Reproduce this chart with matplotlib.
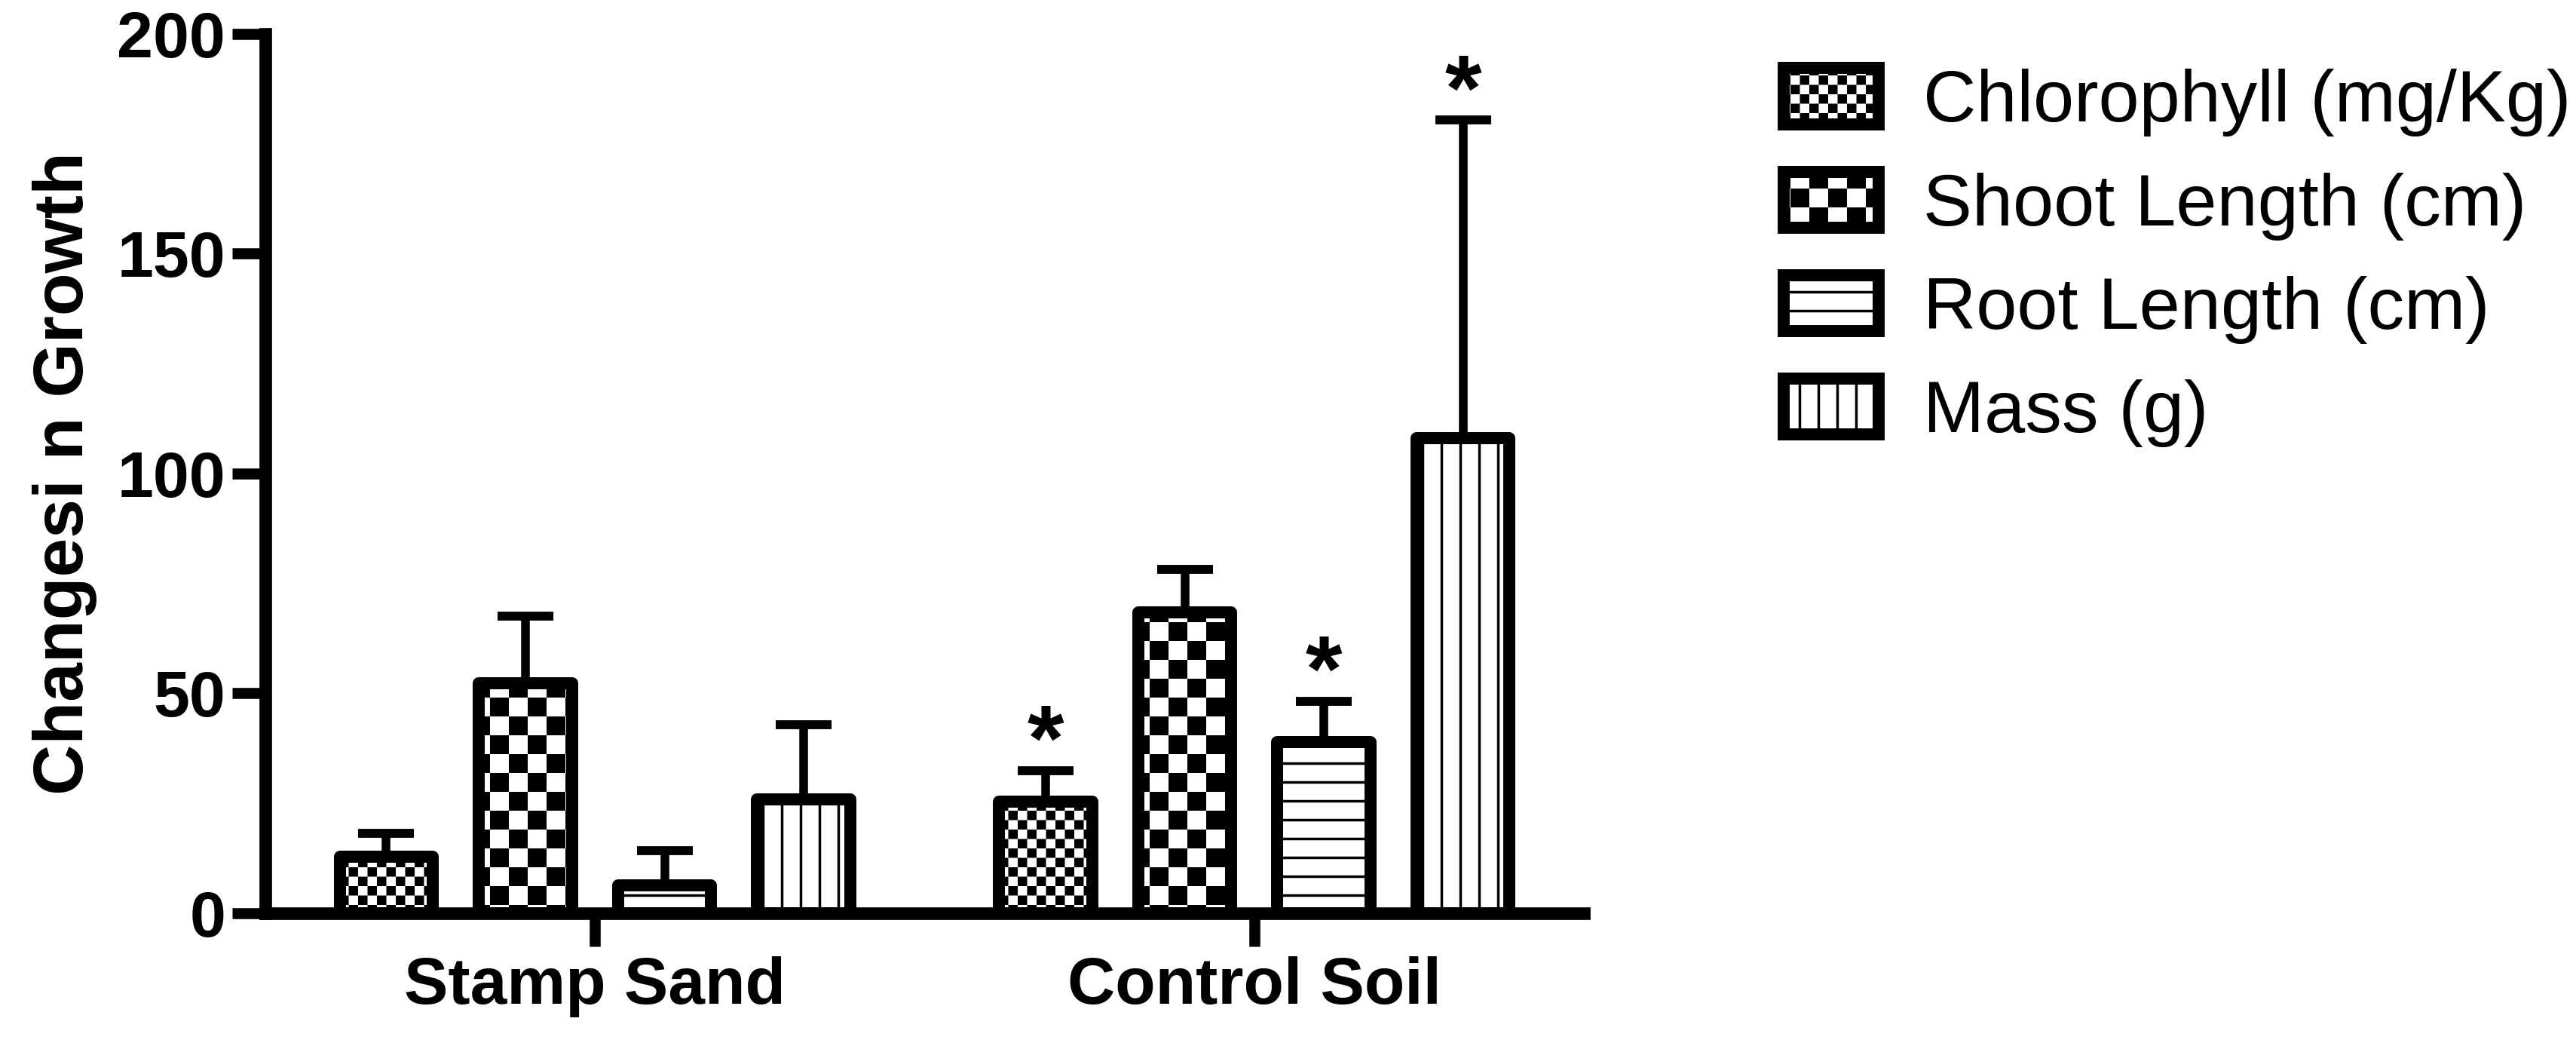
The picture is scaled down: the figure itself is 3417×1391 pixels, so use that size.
import functools
import numpy as np
import matplotlib
matplotlib.use('Agg')
import matplotlib.pyplot as plt
import matplotlib.hatch as mhatch
from matplotlib.path import Path

# data
groups = ['Stamp Sand', 'Control Soil']
series = ['Chlorophyll (mg/Kg)', 'Shoot Length (cm)', 'Root Length (cm)', 'Mass (g)']
stamp_mean = [12.9, 52.3, 6.4, 25.9]
stamp_err = [5.3, 15.3, 7.8, 17.0]
control_mean = [25.4, 68.4, 38.9, 108.0]
control_err = [7.0, 9.8, 9.3, 72.4]
stamp_star = [False, False, False, False]
control_star = [True, False, True, True]
yticks = [0, 50, 100, 150, 200]

hatches = ['x', 'X', '-', '|']

HATCH_LW = 2.5  # points
plt.rcParams['hatch.linewidth'] = HATCH_LW
plt.rcParams['font.family'] = ['Liberation Sans', 'DejaVu Sans']


# prism-like fill patterns: checkerboards and plain line fills
class Checker(mhatch.HatchPatternBase):
    def __init__(self, hatch, density, char='x', cells=8):
        self.n = cells if char in hatch else 0
        self.num_vertices = 5 * (self.n * self.n // 2)

    def set_vertices_and_codes(self, vertices, codes):
        n = self.n
        g = HATCH_LW / 72.0 / 2.0
        k = 0
        for i in range(n):
            for j in range(n):
                if (i + j) % 2:
                    continue
                x0, x1 = i / n + g, (i + 1) / n - g
                y0, y1 = j / n + g, (j + 1) / n - g
                vertices[k:k + 5] = [(x0, y0), (x1, y0), (x1, y1), (x0, y1), (x0, y0)]
                codes[k:k + 5] = [Path.MOVETO, Path.LINETO, Path.LINETO,
                                  Path.LINETO, Path.CLOSEPOLY]
                k += 5


class Lines(mhatch.HatchPatternBase):
    def __init__(self, hatch, density, char='-', n=4, vertical=False):
        self.n = n if char in hatch else 0
        self.vertical = vertical
        self.num_vertices = 2 * self.n

    def set_vertices_and_codes(self, vertices, codes):
        for k in range(self.n):
            p = (k + 0.5) / self.n
            if self.vertical:
                vertices[2 * k:2 * k + 2] = [(p, 0.0), (p, 1.0)]
            else:
                vertices[2 * k:2 * k + 2] = [(0.0, p), (1.0, p)]
            codes[2 * k:2 * k + 2] = [Path.MOVETO, Path.LINETO]


mhatch._hatch_types[:] = [
    functools.partial(Checker, char='x', cells=8),
    functools.partial(Checker, char='X', cells=4),
    functools.partial(Lines, char='-', n=4, vertical=False),
    functools.partial(Lines, char='|', n=4, vertical=True),
]

means = np.array([stamp_mean, control_mean])
errs = np.array([stamp_err, control_err])
stars = np.array([stamp_star, control_star])

fig = plt.figure(figsize=(34.17, 13.91), dpi=100)
ax = fig.add_axes([0.1030, 0.1294, 0.5119, 0.8383])

x = np.arange(len(groups))
pitch = 0.211
width = 0.141
for k in range(len(series)):
    xs = x + (k - 1.5) * pitch
    ax.errorbar(xs, means[:, k], yerr=[np.zeros(len(groups)), errs[:, k]],
                fmt='none', ecolor='black', elinewidth=8.3, capsize=26.5,
                capthick=8.5, zorder=2)
    ax.bar(xs, means[:, k], width, color='white', edgecolor='black',
           linewidth=11.5, hatch=hatches[k], label=series[k], zorder=3,
           joinstyle='round')
    for g in range(len(groups)):
        if stars[g, k]:
            ax.text(xs[g], means[g, k] + errs[g, k], '*', ha='center',
                    va='baseline', fontsize=90, fontweight='bold')

ax.set_xlim(-0.5, 1.5)
ax.set_ylim(0, 200)
ax.set_yticks(yticks)
ax.set_xticks(x)
ax.set_xticklabels(groups)
ax.spines[['top', 'right']].set_visible(False)
ax.spines[['left', 'bottom']].set_linewidth(12)
ax.tick_params(axis='both', width=10.5, length=32, direction='out',
               labelsize=62, pad=6)
ax.tick_params(axis='x', labelsize=63, pad=9)
for lbl in ax.get_xticklabels() + ax.get_yticklabels():
    lbl.set_fontweight('bold')

ax.set_ylabel('Changesi n Growth', fontsize=67, fontweight='bold')
ax.yaxis.set_label_coords(-0.1275, 0.5)

ax.legend(loc='upper left', bbox_to_anchor=(0.6924, 0.935),
          bbox_transform=fig.transFigure, frameon=False, fontsize=70,
          handlelength=1.3, handleheight=0.8, handletextpad=0.6,
          labelspacing=0.475, borderpad=0, borderaxespad=0)

plt.savefig('out.png', dpi=100)
